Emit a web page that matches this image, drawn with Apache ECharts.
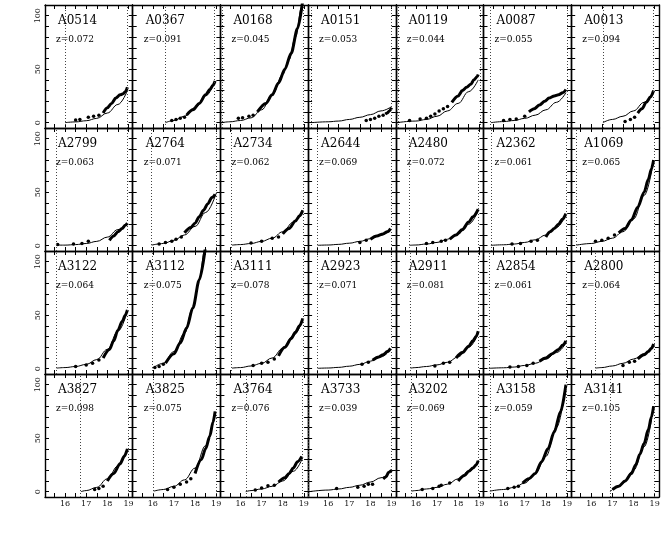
<!DOCTYPE html>
<html>
<head>
<meta charset="utf-8">
<script src="https://cdn.jsdelivr.net/npm/echarts@6/dist/echarts.min.js"></script>
<style>
  html, body { margin: 0; background: #fff; }
  #chart { width: 669px; height: 537px; }
</style>
</head>
<body>
<div id="chart"></div>
<script>
// cluster panels, row by row
const clusters = [
  "A0514", "A0367", "A0168", "A0151", "A0119", "A0087", "A0013",
  "A2799", "A2764", "A2734", "A2644", "A2480", "A2362", "A1069",
  "A3122", "A3112", "A3111", "A2923", "A2911", "A2854", "A2800",
  "A3827", "A3825", "A3764", "A3733", "A3202", "A3158", "A3141"
];
const redshifts = [
  "0.072", "0.091", "0.045", "0.053", "0.044", "0.055", "0.094",
  "0.063", "0.071", "0.062", "0.069", "0.072", "0.061", "0.065",
  "0.064", "0.075", "0.078", "0.071", "0.081", "0.061", "0.064",
  "0.098", "0.075", "0.076", "0.039", "0.069", "0.059", "0.105"
];
// dotted vertical lines (bright / faint magnitude limits)
const startMags = [
  16.0, 16.6, 15.15, 15.2, 15.15, 15.38, 16.55,
  15.6, 15.94, 15.57, 15.5, 15.7, 15.4, 15.3,
  15.6, 15.97, 15.57, 15.47, 15.75, 15.3, 16.2,
  16.72, 16.04, 16.26, 15.08, 15.8, 15.36, 16.88
];
const endMags = [
  18.95, 18.92, 18.95, 18.99, 19.05, 19.0, 18.95,
  18.95, 19.0, 18.97, 18.97, 18.97, 18.97, 18.97,
  18.95, 18.97, 18.97, 18.97, 18.97, 18.97, 18.97,
  18.97, 19.0, 18.9, 19.0, 18.97, 18.98, 18.97
];

// model curves [mag, N]
const curves = [
  [[16.0,0],[16.5,0.7],[17,1.8],[17.5,4],[18,9],[18.5,17],[18.95,30]],
  [[16.6,0],[17,2],[17.5,6],[18,14],[18.5,25],[18.95,39]],
  [[15.1,0],[15.5,0.8],[16,2],[16.5,4.5],[17,12],[17.5,26],[18,45],[18.3,59],[18.6,80],[18.9,108],[18.95,115]],
  [[15.2,0],[16,0.8],[16.5,1.5],[17,3],[17.5,5],[18,7.5],[18.5,11],[19,15]],
  [[15.1,0],[16,1.5],[16.5,3],[17,6],[17.5,11],[18,18],[18.5,29],[18.95,40]],
  [[15.4,0],[16,1],[16.5,2],[17,4],[17.5,7],[18,12],[18.5,19],[18.95,28]],
  [[16.55,0],[17,3],[17.5,6],[18,11],[18.5,19],[18.95,29]],
  [[15.6,0.5],[16,0.5],[16.5,1],[17,2],[17.5,4],[18,8],[18.5,15],[18.95,21]],
  [[15.95,0.5],[16.5,2],[17,5],[17.5,10],[18,18],[18.5,31],[19,49]],
  [[15.6,0.5],[16,1],[16.5,2],[17,4],[17.5,7],[18,13],[18.5,22],[18.95,33]],
  [[15.5,0.3],[16,0.6],[16.5,1.2],[17,2.3],[17.5,4],[18,6.5],[18.5,10],[18.95,15]],
  [[15.7,0.3],[16,0.6],[16.5,1.5],[17,3],[17.5,6],[18,11],[18.5,20],[18.95,33]],
  [[15.4,0.3],[16,0.8],[16.5,1.5],[17,3],[17.5,5.5],[18,10],[18.5,17],[18.95,29]],
  [[15.3,0.5],[16,2],[16.5,4],[17,7],[17.5,13],[18,25],[18.5,47],[18.95,80]],
  [[15.6,0.5],[16,1],[16.5,2],[17,4],[17.5,8.5],[18,18],[18.5,35],[18.95,54]],
  [[16.0,0.5],[16.5,5],[17,16],[17.5,33],[17.9,57],[18.2,83],[18.45,110],[18.5,115]],
  [[15.6,0.5],[16,1],[16.5,2.5],[17,5],[17.5,10],[18,19],[18.5,31],[18.95,46]],
  [[15.5,0.3],[16,0.6],[16.5,1.2],[17,2.3],[17.5,4],[18,7],[18.5,11],[18.95,18]],
  [[15.75,0.5],[16,1],[16.5,2],[17,3.5],[17.5,6],[18,11],[18.5,20],[18.95,33]],
  [[15.3,0.3],[16,0.8],[16.5,1.5],[17,3],[17.5,5],[18,9],[18.5,15],[18.95,24]],
  [[16.2,0.5],[16.5,1],[17,2.5],[17.5,5],[18,9],[18.5,14],[18.95,22]],
  [[16.75,0],[17,1],[17.5,4],[18,12],[18.5,24],[18.95,40]],
  [[16.05,0.5],[16.5,2],[17,5],[17.5,11],[18,22],[18.5,43],[18.95,75]],
  [[16.25,0],[16.5,1],[17,2.5],[17.5,5],[18,10],[18.5,19],[18.95,32]],
  [[15.1,0],[16,1.5],[16.5,2.5],[17,4],[17.5,6],[18,9],[18.5,13],[19,20]],
  [[15.8,0.5],[16,1],[16.5,2.5],[17,4],[17.5,7],[18,12],[18.5,19],[18.95,28]],
  [[15.35,0.5],[16,2],[16.5,4],[17,8],[17.5,17],[18,33],[18.5,60],[18.95,100]],
  [[16.9,0],[17.2,4],[17.5,8],[18,20],[18.5,42],[18.95,80]]
];

// isolated galaxies (bright end)
const dots = [
  [[16.5,2.5],[16.7,3],[17.1,5],[17.35,6],[17.6,7]],
  [[16.9,2],[17.1,3],[17.3,4],[17.5,5]],
  [[15.9,4],[16.1,4.5],[16.4,6],[16.6,7]],
  [[17.8,2],[18.0,3],[18.2,4],[18.4,6],[18.6,7]],
  [[15.7,2],[16.2,3.5],[16.5,4],[16.7,6],[16.9,8],[17.1,11],[17.3,13],[17.5,15]],
  [[16.0,2],[16.3,3],[16.6,3.5],[17.0,6]],
  [[17.6,1],[17.85,3],[18.05,5]],
  [[15.65,1],[16.4,1.5],[16.8,2],[17.1,4]],
  [[16.3,1.5],[16.6,3],[16.9,4],[17.1,6],[17.35,8]],
  [[16.5,2.5],[17,4],[17.5,7],[17.8,8]],
  [[17.5,3],[17.8,5]],
  [[16.5,2],[16.8,3],[17.2,4],[17.4,5]],
  [[16.4,1.5],[16.8,2],[17.3,4],[17.6,5]],
  [[16.2,4],[16.5,5],[16.8,7],[17.1,10]],
  [[16.5,2],[17,3.5],[17.3,5],[17.6,8]],
  [[16.1,1],[16.3,2],[16.5,4]],
  [[16.6,3],[17,5],[17.3,6],[17.6,9]],
  [[17.6,4],[17.9,6]],
  [[16.9,2.5],[17.3,5],[17.6,6]],
  [[16.3,1.5],[16.7,2],[17.1,3],[17.4,5]],
  [[17.5,3],[17.8,6],[18.05,7]],
  [[17.4,2],[17.6,3],[17.8,5]],
  [[16.7,2],[17.0,4],[17.3,7],[17.6,9],[17.8,12]],
  [[16.7,1.5],[17.0,3.5],[17.3,5.5],[17.6,6]],
  [[16.4,3],[17.4,4],[17.7,5],[17.9,7],[18.1,7]],
  [[16.3,2],[16.8,3],[17.1,5],[17.2,6],[17.6,8]],
  [[16.2,3],[16.5,4],[16.7,5]],
  []
];

// dense runs of galaxies (faint end)
const bands = [
  [[17.8,9],[18.0,14],[18.2,18],[18.4,23],[18.6,26],[18.75,27],[18.85,29],[18.95,33]],
  [[17.6,7],[17.9,12],[18.2,18],[18.5,26],[18.7,31],[18.85,35],[18.95,39]],
  [[16.8,10],[17.2,18],[17.5,26],[17.8,37],[18.1,50],[18.4,65],[18.7,88],[18.95,115]],
  [[18.7,8],[18.8,9],[18.9,11],[19,14]],
  [[17.7,19],[18.0,25],[18.2,30],[18.4,33],[18.6,36],[18.75,40],[18.9,43],[18.95,45]],
  [[17.2,10],[17.45,13],[17.7,16.5],[17.95,20],[18.15,23],[18.4,25],[18.6,26],[18.8,28],[18.95,31]],
  [[18.2,9],[18.4,13],[18.6,19],[18.8,24],[18.95,30]],
  [[18.1,5],[18.3,9],[18.5,13],[18.7,16],[18.85,19],[18.95,21]],
  [[17.5,12],[17.8,17],[18.0,21],[18.2,27],[18.4,33],[18.6,39],[18.8,45],[18.95,48]],
  [[18.0,11],[18.3,16],[18.6,23],[18.8,28],[18.95,33]],
  [[18.0,6],[18.3,9],[18.6,11],[18.8,13],[18.95,16]],
  [[17.6,6],[17.9,10],[18.2,15],[18.5,22],[18.7,27],[18.95,34]],
  [[18.0,8],[18.2,13],[18.4,16],[18.6,20],[18.8,25],[18.95,30]],
  [[17.3,12],[17.6,16],[17.9,24],[18.2,36],[18.5,50],[18.7,62],[18.85,72],[18.95,80]],
  [[17.8,10],[18.1,18],[18.3,26],[18.5,36],[18.7,44],[18.85,50],[18.95,55]],
  [[16.6,5],[17,14],[17.3,24],[17.6,38],[17.9,57],[18.2,83],[18.5,115]],
  [[17.8,12],[18.1,20],[18.4,28],[18.6,34],[18.8,40],[18.95,47]],
  [[18.1,8],[18.4,11],[18.6,13],[18.8,16],[18.95,19]],
  [[17.9,10],[18.2,15],[18.5,21],[18.7,26],[18.85,30],[18.95,35]],
  [[17.7,7],[18.0,10],[18.3,14],[18.6,18],[18.8,22],[18.95,26]],
  [[18.2,9],[18.5,13],[18.7,16],[18.85,19],[18.95,23]],
  [[18.0,10],[18.3,17],[18.6,26],[18.8,33],[18.95,40]],
  [[18.0,17],[18.3,30],[18.5,40],[18.7,52],[18.85,65],[18.95,75]],
  [[17.8,9],[18.1,13],[18.3,17],[18.5,22],[18.7,28],[18.9,33]],
  [[18.6,12],[18.75,14],[18.85,18],[19,20]],
  [[18.0,10],[18.3,15],[18.5,19],[18.7,22],[18.85,25],[18.95,29]],
  [[16.9,8],[17.2,12],[17.5,17],[17.8,28],[18.1,40],[18.4,56],[18.7,75],[18.95,100]],
  [[17.0,2],[17.3,5],[17.6,10],[17.9,17],[18.1,25],[18.3,35],[18.5,45],[18.7,58],[18.85,70],[18.95,80]]
];

const xTicks = [15.5, 16, 16.5, 17, 17.5, 18, 18.5, 19];
const xLabels = [16, 17, 18, 19];
const yTicks = [0, 10, 20, 30, 40, 50, 60, 70, 80, 90, 100];
const yLabels = [0, 50, 100];

const NCOL = 7;
const PANEL_W = 87.7;
const PANEL_H = 123;
const LEFT0 = 45;
const TOP0 = 5;

const frame = { show: true, onZero: false, lineStyle: { color: "#000", width: 1.4 } };
const tickStyle = { color: "#000", width: 1 };
const labelFont = { fontFamily: "DejaVu Serif", fontSize: 8, color: "#111" };

const option = {
  animation: false,
  backgroundColor: "#fff",
  grid: [],
  xAxis: [],
  yAxis: [],
  series: [],
  graphic: []
};

for (let i = 0; i < clusters.length; i++) {
  const r = Math.floor(i / NCOL);
  const c = i % NCOL;
  const left = LEFT0 + c * PANEL_W;
  const top = TOP0 + r * PANEL_H;

  option.grid.push({ left: left, top: top, width: PANEL_W, height: PANEL_H });

  ["bottom", "top"].forEach(function(pos) {
    option.xAxis.push({
      gridIndex: i,
      type: "value",
      position: pos,
      min: 15.05,
      max: 19.2,
      axisLine: frame,
      axisTick: { inside: true, length: 4, customValues: xTicks, lineStyle: tickStyle },
      axisLabel: Object.assign({
        show: pos === "bottom" && r === 3,
        customValues: xLabels,
        margin: 3
      }, labelFont),
      splitLine: { show: false }
    });
  });

  ["left", "right"].forEach(function(pos) {
    option.yAxis.push({
      gridIndex: i,
      type: "value",
      position: pos,
      min: -5,
      max: 110,
      axisLine: frame,
      axisTick: { inside: true, length: 4, customValues: yTicks, lineStyle: tickStyle },
      axisLabel: Object.assign({
        show: pos === "left" && c === 0,
        customValues: yLabels,
        rotate: 90,
        margin: 3
      }, labelFont),
      splitLine: { show: false }
    });
  });

  option.series.push({
    type: "line",
    xAxisIndex: 2 * i,
    yAxisIndex: 2 * i,
    data: curves[i],
    smooth: 0.4,
    smoothMonotone: "x",
    showSymbol: false,
    clip: true,
    lineStyle: { color: "#000", width: 1 },
    markLine: {
      silent: true,
      symbol: "none",
      label: { show: false },
      lineStyle: { type: [1, 2], color: "#444", width: 1 },
      data: [{ xAxis: startMags[i] }, { xAxis: endMags[i] }]
    }
  });
  option.series.push({
    type: "line",
    xAxisIndex: 2 * i,
    yAxisIndex: 2 * i,
    data: bands[i],
    smooth: 0.3,
    smoothMonotone: "x",
    showSymbol: false,
    clip: true,
    lineStyle: { color: "#000", width: 3 }
  });
  option.series.push({
    type: "scatter",
    xAxisIndex: 2 * i,
    yAxisIndex: 2 * i,
    data: dots[i],
    symbolSize: 3.5,
    itemStyle: { color: "#000", opacity: 1 }
  });

  option.graphic.push({
    type: "text",
    left: left + 13,
    top: top + 10,
    style: { text: clusters[i], fontFamily: "DejaVu Serif", fontSize: 12, fill: "#000" }
  });
  option.graphic.push({
    type: "text",
    left: left + 11,
    top: top + 30,
    style: { text: "z=" + redshifts[i], fontFamily: "DejaVu Serif", fontSize: 9, fill: "#000" }
  });
}

const chart = echarts.init(document.getElementById("chart"));
chart.setOption(option);
</script>
</body>
</html>
